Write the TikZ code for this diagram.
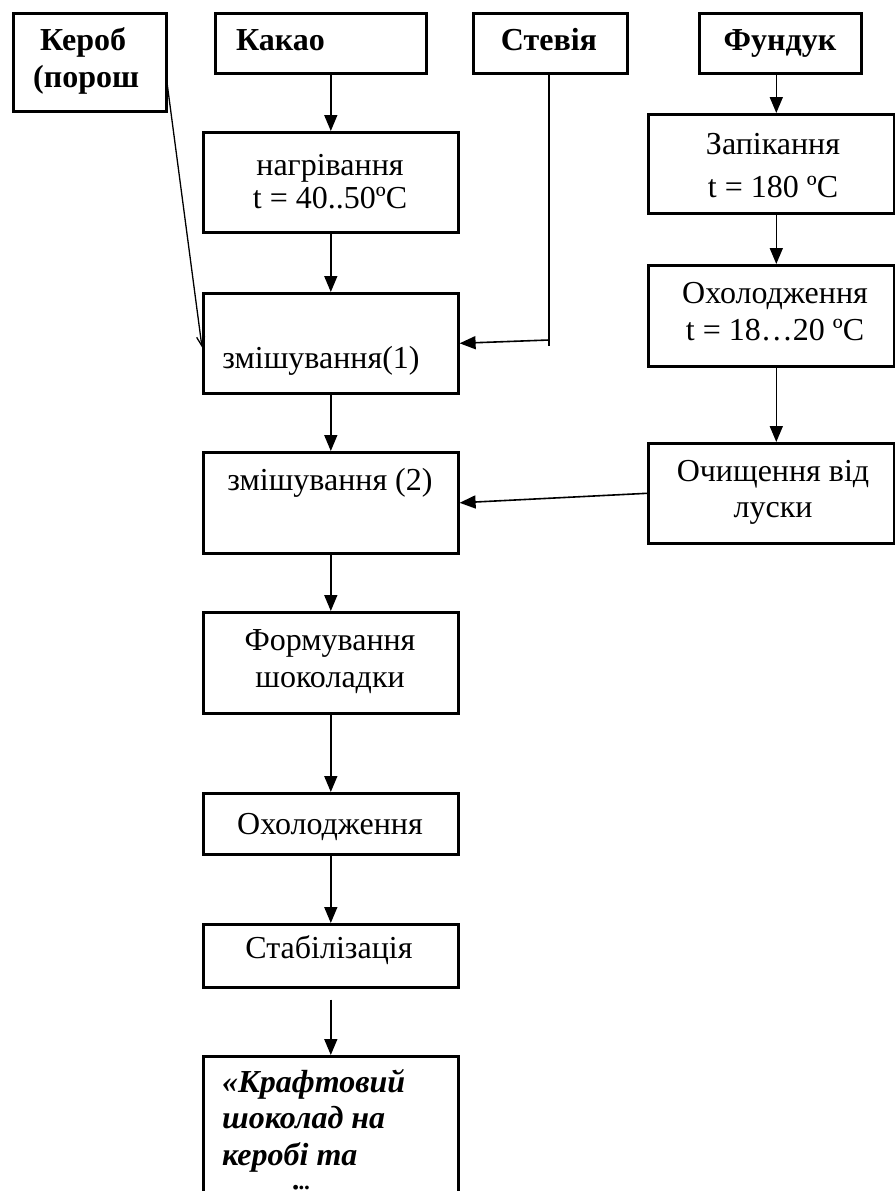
\documentclass[tikz,border=0pt]{standalone}
\usepackage{fontspec}
\setmainfont{Liberation Serif}
\usetikzlibrary{arrows.meta}
\begin{document}
\begin{tikzpicture}[x=1pt,y=-1pt,
  box/.style={draw=black,line width=2.6pt,rectangle,inner sep=0pt,anchor=north west},
  txt/.style={inner sep=0pt,anchor=base,font=\fontsize{32}{36}\selectfont},
  btxt/.style={txt,font=\fontsize{32}{36}\selectfont\bfseries},
  bitxt/.style={txt,anchor=base west,font=\fontsize{32}{36}\selectfont\bfseries\itshape},
  arr/.style={line width=1.6pt,-{Triangle[length=16pt,width=13pt]}},
  thin/.style={line width=1.3pt,-{Straight Barb[length=9pt,width=8pt]}}]
\useasboundingbox (0,0) rectangle (894,1191);
\fill[white] (0,0) rectangle (894,1191);
% boxes
\node[box,minimum width=153pt,minimum height=98pt] (kerob) at (12,12) {};
\node[box,minimum width=211pt,minimum height=60pt] (kakao) at (214,12) {};
\node[box,minimum width=154pt,minimum height=60pt] (stevia) at (472,12) {};
\node[box,minimum width=162pt,minimum height=60pt] (funduk) at (698,12) {};
\node[box,minimum width=255pt,minimum height=100pt] (heat) at (202,131) {};
\node[box,minimum width=255pt,minimum height=100pt] (mix1) at (202,292) {};
\node[box,minimum width=255pt,minimum height=101pt] (mix2) at (202,451) {};
\node[box,minimum width=255pt,minimum height=101pt] (form) at (202,611) {};
\node[box,minimum width=255pt,minimum height=61pt] (cool) at (202,792) {};
\node[box,minimum width=255pt,minimum height=63pt] (stab) at (202,923) {};
\node[box,minimum width=255pt,minimum height=200pt] (final) at (202,1055) {};
\node[box,minimum width=246pt,minimum height=99pt] (bake) at (647,113) {};
\node[box,minimum width=246pt,minimum height=101pt] (coolR) at (647,264) {};
\node[box,minimum width=246pt,minimum height=100pt] (clean) at (647,442) {};
% texts
\node[btxt,anchor=base west] (tk1) at (40,50) {Кероб};
\node[btxt,anchor=base west] (tk2) at (33,87) {(порош};
\node[btxt,anchor=base west] (tka) at (236,50) {Какао};
\node[btxt] (tst) at (549,50) {Стевія};
\node[btxt] (tfu) at (780,50) {Фундук};
\node[txt] (th1) at (330,175) {нагрівання};
\node[txt] (th2) at (330,208) {t = 40..50ºC};
\node[txt] (tm1) at (321,368) {змішування(1)};
\node[txt] (tm2) at (330,490) {змішування (2)};
\node[txt] (tf1) at (330,650) {Формування};
\node[txt] (tf2) at (330,687) {шоколадки};
\node[txt] (tc) at (330,834) {Охолодження};
\node[txt] (ts) at (329,958) {Стабілізація};
\node[bitxt] (tz1) at (222,1092) {«Крафтовий};
\node[bitxt] (tz2) at (222,1128) {шоколад на};
\node[bitxt] (tz3) at (222,1165) {керобі та};
\node[bitxt] (tz4) at (222,1207) {стевії»};
\node[txt] (tb1) at (773,154) {Запікання};
\node[txt] (tb2) at (773,197) {t = 180 ºC};
\node[txt] (tr1) at (775,303) {Охолодження};
\node[txt] (tr2) at (775,340) {t = 18…20 ºC};
\node[txt] (tq1) at (773,481) {Очищення від};
\node[txt] (tq2) at (773,517) {луски};
% connectors
\coordinate (kerobout) at (166,75);
\draw[arr] (kakao.south -| heat.north) -- (heat.north);
\draw[arr] (heat.south) -- (mix1.north);
\draw[arr] (mix1.south) -- (mix2.north);
\draw[arr] (mix2.south) -- (form.north);
\draw[arr] (form.south) -- (cool.north);
\draw[arr] (cool.south) -- (stab.north);
\draw[arr] ([yshift=-11pt]stab.south) -- (final.north);
\draw[thin] (kerobout) -- ([yshift=-4pt]mix1.west);
\draw[line width=1.6pt] (stevia.south -| 549,0) -- (549,346);
\draw[arr] (549,340) -- (mix1.east);
\draw[arr] ([xshift=5pt]funduk.south -| bake.north) -- ([xshift=5pt]bake.north);
\draw[arr] ([xshift=5pt]bake.south) -- ([xshift=5pt]coolR.north);
\draw[arr] ([xshift=5pt]coolR.south) -- ([xshift=5pt]clean.north);
\draw[arr] (clean.west) -- (mix2.east);
\end{tikzpicture}
\end{document}
